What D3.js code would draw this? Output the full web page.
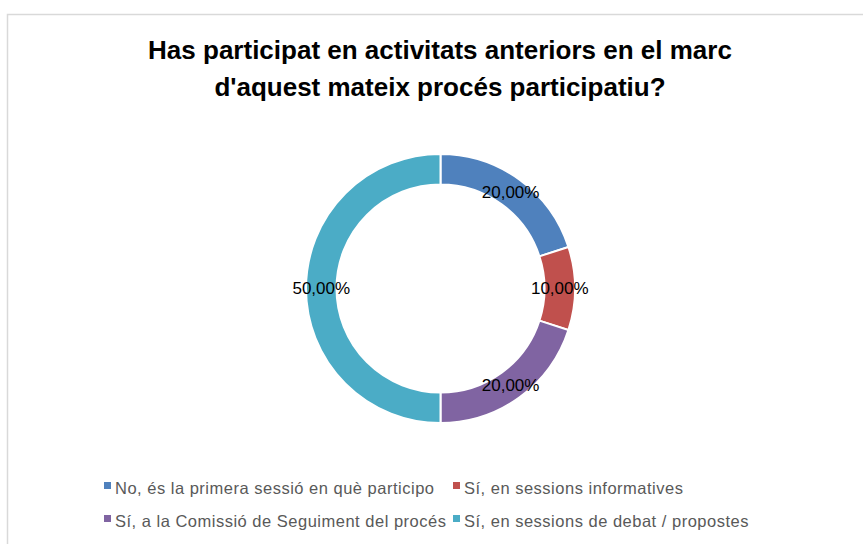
<!DOCTYPE html>
<html>
<head>
<meta charset="utf-8">
<script src="https://cdn.jsdelivr.net/npm/d3@7"></script>
<style>
  body { margin: 0; background: #fff; }
  text { font-family: "Liberation Sans", Arial, sans-serif; }
</style>
</head>
<body>
<svg width="863" height="544"></svg>
<script>
  var categories = [
    'No, és la primera sessió en què participo',
    'Sí, en sessions informatives',
    'Sí, a la Comissió de Seguiment del procés',
    'Sí, en sessions de debat / propostes'
  ];
  var values = [20, 10, 20, 50];
  var colors = ['#4F81BD', '#C0504D', '#8064A2', '#4BACC6'];
  var titleLines = [
    'Has participat en activitats anteriors en el marc',
    "d'aquest mateix procés participatiu?"
  ];

  var svg = d3.select('svg');
  var width = +svg.attr('width');

  // chart frame (runs off the right and bottom edges)
  svg.append('rect')
    .attr('x', 7.5)
    .attr('y', 14.5)
    .attr('width', 900)
    .attr('height', 600)
    .attr('fill', '#fff')
    .attr('stroke', '#d9d9d9')
    .attr('stroke-width', 1.5);

  // title
  svg.append('g')
    .selectAll('text')
    .data(titleLines)
    .join('text')
    .attr('x', 440)
    .attr('y', function(d, i) { return 59 + i * 37; })
    .attr('text-anchor', 'middle')
    .attr('font-size', 26)
    .attr('font-weight', 'bold')
    .attr('fill', '#000')
    .text(function(d) { return d; });

  // donut
  var cx = 440.5, cy = 288.5;
  var outerR = 134.5, innerR = 104;

  var pie = d3.pie().sort(null).value(function(d) { return d; });
  var arcs = pie(values);
  var arc = d3.arc().innerRadius(innerR).outerRadius(outerR);
  var labelArc = d3.arc().innerRadius((innerR + outerR) / 2).outerRadius((innerR + outerR) / 2);

  var g = svg.append('g')
    .attr('transform', 'translate(' + cx + ',' + cy + ')');

  g.selectAll('path')
    .data(arcs)
    .join('path')
    .attr('d', arc)
    .attr('fill', function(d, i) { return colors[i]; })
    .attr('stroke', '#fff')
    .attr('stroke-width', 2);

  var pct = d3.format('.2f');
  g.selectAll('text')
    .data(arcs)
    .join('text')
    .attr('transform', function(d) { return 'translate(' + labelArc.centroid(d) + ')'; })
    .attr('text-anchor', 'middle')
    .attr('dy', '0.35em')
    .attr('font-size', 17)
    .attr('fill', '#000')
    .text(function(d) {
      var total = d3.sum(values);
      return pct(d.value / total * 100).replace('.', ',') + '%';
    });

  // legend, two columns
  var legend = svg.append('g');
  var item = legend.selectAll('g')
    .data(categories)
    .join('g')
    .attr('transform', function(d, i) {
      return 'translate(' + (i % 2 ? 453 : 104) + ',' + (488 + Math.floor(i / 2) * 33) + ')';
    });

  item.append('rect')
    .attr('x', 0)
    .attr('y', -6)
    .attr('width', 7)
    .attr('height', 7)
    .attr('fill', function(d, i) { return colors[i]; });

  item.append('text')
    .attr('x', 11)
    .attr('y', 0)
    .attr('dy', '0.35em')
    .attr('font-size', 16.5)
    .attr('letter-spacing', 0.5)
    .attr('fill', '#595959')
    .text(function(d) { return d; });
</script>
</body>
</html>
